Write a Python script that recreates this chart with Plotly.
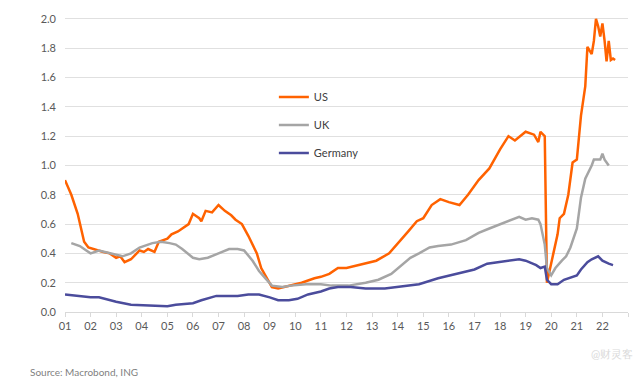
import plotly.graph_objects as go

# ---- data ----
us_dates = ["2001-01","2001-04","2001-07","2001-09","2001-10","2001-12","2002-04","2002-07","2002-10",
            "2003-01","2003-03","2003-05","2003-08","2003-12","2004-02","2004-04","2004-07","2004-09",
            "2005-01","2005-03","2005-06","2005-08","2005-11","2006-01","2006-04","2006-05","2006-07",
            "2006-10","2007-01","2007-04","2007-07","2007-09","2007-12","2008-03","2008-07","2008-09",
            "2009-01","2009-02","2009-05","2009-10","2010-04","2010-10","2011-01","2011-05","2011-09",
            "2012-01","2012-07","2013-03","2013-09","2014-02","2014-06","2014-10","2015-01","2015-05",
            "2015-09","2016-01","2016-06","2016-10","2017-03","2017-08","2018-01","2018-05","2018-08",
            "2019-01","2019-05","2019-07","2019-08","2019-10","2019-11","2020-02","2020-04","2020-05",
            "2020-07","2020-09","2020-11","2021-01","2021-02","2021-03","2021-05","2021-06","2021-08",
            "2021-09","2021-10","2021-11","2021-12","2022-01","2022-02","2022-03","2022-04","2022-05",
            "2022-06","2022-07"]
us_values = [0.90,0.80,0.67,0.55,0.48,0.44,0.42,0.41,0.40,
             0.37,0.38,0.34,0.36,0.42,0.41,0.43,0.41,0.48,
             0.50,0.53,0.55,0.57,0.60,0.67,0.64,0.62,0.69,
             0.68,0.73,0.69,0.66,0.63,0.60,0.52,0.40,0.30,
             0.20,0.17,0.16,0.18,0.20,0.23,0.24,0.26,0.30,
             0.30,0.32,0.35,0.40,0.48,0.55,0.62,0.64,0.73,
             0.77,0.75,0.73,0.80,0.90,0.98,1.11,1.20,1.17,
             1.23,1.21,1.16,1.23,1.20,0.20,0.40,0.53,0.64,
             0.67,0.80,1.02,1.04,1.23,1.34,1.54,1.81,1.76,
             1.85,2.00,1.95,1.88,1.97,1.85,1.71,1.85,1.72,
             1.73,1.72]

uk_dates = ["2001-04","2001-08","2001-11","2002-01","2002-05","2002-11","2003-04","2003-08","2003-12",
            "2004-06","2004-10","2005-02","2005-05","2005-08","2006-01","2006-04","2006-08","2007-01",
            "2007-06","2007-10","2008-01","2008-05","2008-08","2008-11","2009-02","2009-07","2009-11",
            "2010-06","2011-01","2011-06","2012-02","2012-10","2013-04","2013-10","2014-03","2014-07",
            "2014-11","2015-04","2015-08","2016-02","2016-09","2017-03","2017-08","2018-01","2018-05",
            "2018-10","2019-01","2019-04","2019-07","2019-08","2019-10","2019-11","2020-01","2020-03",
            "2020-06","2020-08","2020-10","2021-01","2021-03","2021-05","2021-08","2021-09","2021-12",
            "2022-01","2022-02","2022-04"]
uk_values = [0.47,0.45,0.42,0.40,0.42,0.40,0.38,0.40,0.44,
             0.47,0.48,0.47,0.46,0.43,0.37,0.36,0.37,0.40,
             0.43,0.43,0.42,0.35,0.28,0.23,0.18,0.17,0.18,
             0.19,0.19,0.18,0.18,0.20,0.22,0.26,0.32,0.37,
             0.40,0.44,0.45,0.46,0.49,0.54,0.57,0.60,0.62,
             0.65,0.63,0.64,0.63,0.60,0.46,0.30,0.25,0.30,
             0.35,0.38,0.44,0.57,0.78,0.91,1.00,1.04,1.04,
             1.08,1.04,1.00]

de_dates = ["2001-01","2002-01","2002-05","2003-01","2003-08","2004-04","2005-01","2005-05","2006-01",
            "2006-05","2006-12","2007-06","2007-10","2008-03","2008-08","2009-01","2009-05","2009-10",
            "2010-02","2010-07","2011-01","2011-05","2011-09","2012-03","2012-10","2013-07","2014-01",
            "2014-07","2014-11","2015-08","2016-05","2017-01","2017-07","2018-04","2018-10","2019-01",
            "2019-06","2019-08","2019-10","2019-11","2020-01","2020-04","2020-07","2021-01","2021-03",
            "2021-06","2021-08","2021-11","2022-01","2022-04","2022-06"]
de_values = [0.12,0.10,0.10,0.07,0.05,0.045,0.04,0.05,0.06,
             0.08,0.11,0.11,0.11,0.12,0.12,0.10,0.08,0.08,
             0.09,0.12,0.14,0.16,0.17,0.17,0.16,0.16,0.17,
             0.18,0.19,0.23,0.26,0.29,0.33,0.35,0.36,0.35,
             0.32,0.30,0.31,0.22,0.19,0.19,0.22,0.25,0.29,
             0.34,0.36,0.38,0.35,0.33,0.32]

year_ticks = [f"{y}-01-01" for y in range(2001, 2024)]
year_labels = [f"{y % 100:02d}" for y in range(2001, 2023)] + [""]
y_ticks = [0.0, 0.2, 0.4, 0.6, 0.8, 1.0, 1.2, 1.4, 1.6, 1.8, 2.0]
y_labels = [f"{v:.1f}" for v in y_ticks]

# ---- figure ----
fig = go.Figure()
fig.add_trace(go.Scatter(x=us_dates, y=us_values, name="US", mode="lines",
                         line=dict(color="#FF6200", width=2.5), legendgroup="a"))
fig.add_trace(go.Scatter(x=uk_dates, y=uk_values, name="UK", mode="lines",
                         line=dict(color="#A5A5A5", width=2.5), legendgroup="b"))
fig.add_trace(go.Scatter(x=de_dates, y=de_values, name="Germany", mode="lines",
                         line=dict(color="#4B4C9C", width=2.5), legendgroup="c"))

fig.update_layout(
    width=640, height=386,
    margin=dict(l=65, r=12, t=12, b=74),
    paper_bgcolor="white", plot_bgcolor="white",
    font=dict(family="Lato, 'Open Sans', sans-serif", color="#595959", size=11),
    showlegend=True,
    legend=dict(x=0.371, y=0.775, xanchor="left", yanchor="top",
                bgcolor="rgba(0,0,0,0)", font=dict(size=11, color="#404040"),
                tracegroupgap=9, itemwidth=30),
    xaxis=dict(range=["2001-01-01", "2023-01-01"], tickmode="array",
               tickvals=year_ticks, ticktext=year_labels,
               showgrid=False, showline=True, linecolor="#D9D9D9", linewidth=1,
               ticks="outside", ticklen=4, tickcolor="#D9D9D9",
               tickfont=dict(size=11, color="#595959"), zeroline=False),
    yaxis=dict(range=[0, 2.02], tickmode="array", tickvals=y_ticks, ticktext=y_labels,
               showgrid=True, gridcolor="#E0E0E0", gridwidth=1,
               showline=False, zeroline=False, ticks="", ticklabelstandoff=8,
               tickfont=dict(size=11, color="#595959")),
    annotations=[
        dict(text="Source: Macrobond, ING", xref="paper", yref="paper",
             x=-0.066, y=-0.203, xanchor="left", yanchor="middle", showarrow=False,
             font=dict(size=10, color="#7F7F7F")),
        dict(text="@财灵客", xref="paper", yref="paper",
             x=1.012, y=-0.14, xanchor="right", yanchor="middle", showarrow=False,
             font=dict(size=11, color="#DADADA")),
    ],
)

fig.write_html("out.html", config={"displayModeBar": False},
               post_script="document.body.style.margin='0';")
